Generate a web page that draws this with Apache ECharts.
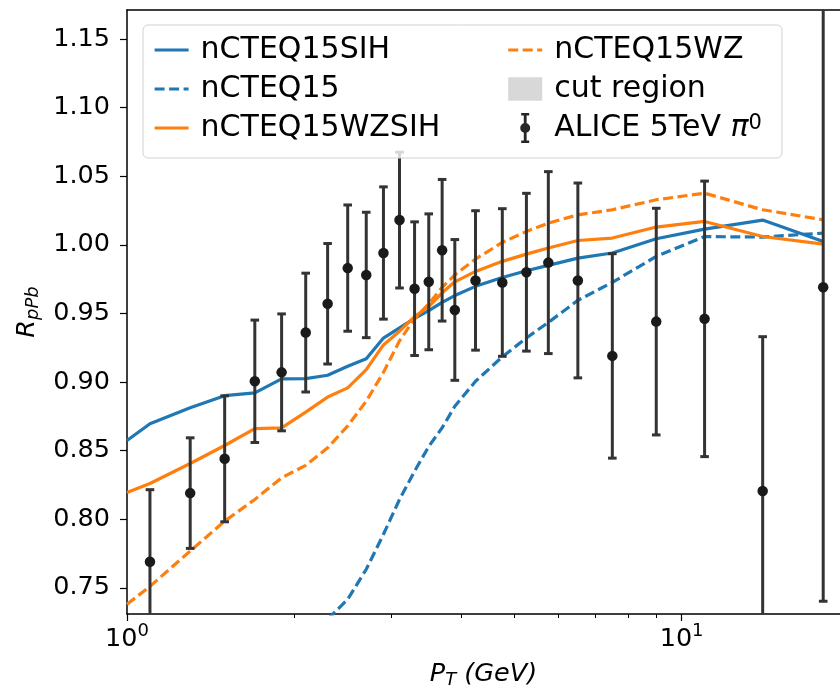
<!DOCTYPE html>
<html>
<head>
<meta charset="utf-8">
<script src="https://cdn.jsdelivr.net/npm/echarts@6/dist/echarts.min.js"></script>
<style>
  html, body { margin: 0; padding: 0; background: #ffffff; }
  #chart { width: 840px; height: 694px; }
</style>
</head>
<body>
<div id="chart"></div>
<script>
// pT grid (GeV) on which the theory predictions are evaluated
const curvePt = [1.0, 1.1, 1.3, 1.5, 1.7, 1.9, 2.1, 2.3, 2.5, 2.7, 2.9, 3.1, 3.3, 3.5, 3.7, 3.9,
                 4.25, 4.75, 5.25, 5.75, 6.5, 7.5, 9, 11, 14, 18];

// R_pPb predictions per PDF set
const rSIH = [0.8574, 0.8695, 0.8812, 0.890, 0.892, 0.9023, 0.9025, 0.9049, 0.9115, 0.917, 0.932, 0.9395,
              0.9463, 0.952, 0.958, 0.9630, 0.9697, 0.9762, 0.9811, 0.985, 0.9903, 0.994, 1.0044, 1.0114,
              1.018, 1.0024];
const rWZSIH = [0.8195, 0.826, 0.8406, 0.8537, 0.866, 0.8666, 0.878, 0.889, 0.8957, 0.909, 0.927, 0.937,
                0.9476, 0.955, 0.965, 0.973, 0.9806, 0.9879, 0.9932, 0.9976, 1.0031, 1.0049, 1.0129,
                1.017, 1.006, 1.0005];
const rWZ = [0.738, 0.751, 0.7768, 0.7986, 0.8144, 0.8302, 0.8392, 0.852, 0.868, 0.886, 0.907, 0.930,
             0.946, 0.957, 0.969, 0.978, 0.9896, 1.0017, 1.0097, 1.0158, 1.0218, 1.0255, 1.0328, 1.0376,
             1.0255, 1.0182];
// nCTEQ15 starts at pT = 2.1 (lower values fall far below the window)
const ptBase = [2.1, 2.3, 2.5, 2.7, 2.9, 3.1, 3.3, 3.5, 3.7, 3.9, 4.25, 4.75, 5.25, 5.75, 6.5, 7.5, 9, 11, 14, 18];
const rBase = [0.700, 0.727, 0.7416, 0.7635, 0.789, 0.8144, 0.835, 0.853, 0.8666, 0.8823, 0.9005, 0.9183,
               0.9321, 0.9434, 0.9595, 0.9726, 0.9915, 1.006, 1.0056, 1.0085];

// ALICE 5 TeV pi0 measurement
const alicePt = [1.1, 1.3, 1.5, 1.7, 1.9, 2.1, 2.3, 2.5, 2.7, 2.9, 3.1, 3.3, 3.5, 3.7, 3.9,
                 4.25, 4.75, 5.25, 5.75, 6.5, 7.5, 9, 11, 14, 18];
const aliceR = [0.769, 0.819, 0.844, 0.9005, 0.907, 0.936, 0.957, 0.983, 0.978, 0.994, 1.018, 0.968,
                0.973, 0.996, 0.9525, 0.974, 0.9725, 0.980, 0.987, 0.974, 0.919, 0.944, 0.946, 0.8205, 0.969];
const aliceErr = [0.0525, 0.0403, 0.0459, 0.0446, 0.0426, 0.0433, 0.0439, 0.046, 0.0457, 0.0482, 0.0495,
                  0.0487, 0.0495, 0.0516, 0.0513, 0.0508, 0.0538, 0.0575, 0.0663, 0.071, 0.0745, 0.0826,
                  0.1004, 0.1125, 0.2288];

// Axis ranges and ticks
const xMin = 1.0, xMax = 19.3;
const yMin = 0.7309, yMax = 1.1711;
const yTicks = [0.75, 0.80, 0.85, 0.90, 0.95, 1.00, 1.05, 1.10, 1.15];
const xMajorTicks = [1, 10];
const xMinorTicks = [2, 3, 4, 5, 6, 7, 8, 9];

const BLUE = '#1f77b4', ORANGE = '#ff7f0e', GREY_CUT = '#d8d8d8';
const FONT = 'DejaVu Sans';
const DASH = [10, 4.5];
const LW = 3.2;
const ERR_LW = 3;

const zip = (xs, ys) => xs.map((x, i) => [x, ys[i]]);

const chart = echarts.init(document.getElementById('chart'), null, { renderer: 'canvas' });

function lineSeries(name, xs, ys, color, dashed) {
  return {
    name, type: 'line', data: zip(xs, ys), symbol: 'none', smooth: false,
    xAxisIndex: 0, yAxisIndex: 0, z: 2,
    lineStyle: { color, width: LW, type: dashed ? DASH : 'solid', cap: 'butt' },
    itemStyle: { color }
  };
}

// legend entry for a line: plain stroke (solid or dashed), no marker
function lineLegend(name, color, dashed) {
  return {
    name,
    itemStyle: { opacity: 0 },
    lineStyle: { color, width: LW, type: dashed ? DASH : 'solid', opacity: 1 }
  };
}

const errorData = alicePt.map((x, i) => [x, aliceR[i], aliceR[i] - aliceErr[i], aliceR[i] + aliceErr[i]]);

const aliceName = 'ALICE 5TeV π0';
const errIcon = 'path://M1,0H9V2.4H6.4V27.6H9V30H1V27.6H3.6V2.4H1Z M0,15A5,5 0 1,1 10,15A5,5 0 1,1 0,15Z';

const option = {
  animation: false,
  backgroundColor: '#ffffff',
  grid: { left: 127, top: 10, right: -1, bottom: 79, containLabel: false },
  xAxis: [
    {
      type: 'log', logBase: 10, min: xMin, max: xMax, position: 'bottom',
      axisLine: { show: true, lineStyle: { color: '#000', width: 1.5 } },
      axisTick: { show: true, length: 7, lineStyle: { color: '#000', width: 1.2 }, customValues: xMajorTicks },
      splitLine: { show: false },
      axisLabel: {
        customValues: xMajorTicks, margin: 8, color: '#000',
        formatter: v => '{b|10}{s|' + Math.round(Math.log10(v)) + '}',
        rich: {
          b: { fontFamily: FONT, fontSize: 25.5, lineHeight: 34, color: '#000' },
          s: { fontFamily: FONT, fontSize: 18, lineHeight: 10, verticalAlign: 'top', color: '#000' }
        }
      },
      name: '{i|P}{sub|T}{i| (GeV)}', nameLocation: 'middle', nameGap: 45,
      nameTextStyle: {
        rich: {
          i: { fontFamily: FONT, fontStyle: 'italic', fontSize: 25.5, lineHeight: 30, color: '#000' },
          sub: { fontFamily: FONT, fontStyle: 'italic', fontSize: 18, lineHeight: 14, verticalAlign: 'bottom', color: '#000' }
        }
      }
    },
    {
      // minor ticks of the log axis
      type: 'log', logBase: 10, min: xMin, max: xMax, position: 'bottom',
      axisLine: { show: false },
      axisTick: { show: true, length: 4, lineStyle: { color: '#000', width: 1 }, customValues: xMinorTicks },
      axisLabel: { show: false }, splitLine: { show: false }
    },
    {
      // top frame line
      type: 'log', logBase: 10, min: xMin, max: xMax, position: 'top',
      axisLine: { show: true, lineStyle: { color: '#000', width: 1.5 } },
      axisTick: { show: false }, axisLabel: { show: false }, splitLine: { show: false }
    }
  ],
  yAxis: [{
    type: 'value', min: yMin, max: yMax, position: 'left',
    axisLine: { show: true, lineStyle: { color: '#000', width: 1.5 } },
    axisTick: { show: true, length: 7, lineStyle: { color: '#000', width: 1.2 }, customValues: yTicks },
    splitLine: { show: false },
    axisLabel: {
      customValues: yTicks, margin: 17, color: '#000', fontFamily: FONT, fontSize: 25.5,
      formatter: v => v.toFixed(2)
    },
    name: '{i|R}{sub|pPb}', nameLocation: 'middle', nameGap: 84, nameRotate: 90,
    nameTextStyle: {
      rich: {
        i: { fontFamily: FONT, fontStyle: 'italic', fontSize: 25.5, lineHeight: 30, color: '#000' },
        sub: { fontFamily: FONT, fontStyle: 'italic', fontSize: 18, lineHeight: 14, verticalAlign: 'bottom', color: '#000' }
      }
    }
  }],
  legend: {
    orient: 'vertical', left: 153, top: 35, height: 110,
    padding: 0, itemGap: 9, itemWidth: 34, itemHeight: 30,
    selectedMode: false,
    data: [
      lineLegend('nCTEQ15SIH', BLUE, false),
      lineLegend('nCTEQ15', BLUE, true),
      lineLegend('nCTEQ15WZSIH', ORANGE, false),
      lineLegend('nCTEQ15WZ', ORANGE, true),
      { name: 'cut region', icon: 'path://M0,0H32V22H0Z', itemStyle: { color: GREY_CUT } },
      { name: aliceName, icon: errIcon, itemStyle: { color: '#262626' } }
    ],
    formatter: name => name === aliceName ? '{n|ALICE 5TeV }{p|π}{s|0}' : name,
    textStyle: {
      fontFamily: FONT, fontSize: 30, lineHeight: 30, color: '#000', width: 297,
      padding: [0, 0, 0, 7],
      rich: {
        n: { fontFamily: FONT, fontSize: 30, lineHeight: 30, color: '#000' },
        p: { fontFamily: FONT, fontStyle: 'italic', fontSize: 30, lineHeight: 30, color: '#000' },
        s: { fontFamily: FONT, fontSize: 21, lineHeight: 14, verticalAlign: 'top', color: '#000' }
      }
    }
  },
  graphic: [{
    type: 'rect', z: 3, silent: true,
    shape: { x: 143, y: 25, width: 639, height: 133, r: 5 },
    style: { fill: 'rgba(255,255,255,0.8)', stroke: '#d2d2d2', lineWidth: 1 }
  }],
  series: [
    lineSeries('nCTEQ15SIH', curvePt, rSIH, BLUE, false),
    lineSeries('nCTEQ15', ptBase, rBase, BLUE, true),
    lineSeries('nCTEQ15WZSIH', curvePt, rWZSIH, ORANGE, false),
    lineSeries('nCTEQ15WZ', curvePt, rWZ, ORANGE, true),
    {
      name: 'cut region', type: 'custom', data: [], itemStyle: { color: GREY_CUT },
      renderItem: () => null
    },
    {
      name: aliceName, type: 'custom', z: 2.5,
      itemStyle: { color: '#333333' },
      data: errorData,
      encode: { x: 0, y: [1, 2, 3] },
      renderItem: (params, api) => {
        const cs = params.coordSys;
        const x = api.value(0);
        const pLo = api.coord([x, api.value(2)]);
        const pHi = api.coord([x, api.value(3)]);
        const top = cs.y, bottom = cs.y + cs.height;
        const yTop = Math.max(pHi[1], top), yBot = Math.min(pLo[1], bottom);
        const cap = 4.3;
        const st = { stroke: '#333333', lineWidth: ERR_LW };
        const kids = [{ type: 'line', shape: { x1: pHi[0], y1: yTop, x2: pHi[0], y2: yBot }, style: st }];
        if (pHi[1] >= top) kids.push({ type: 'line', shape: { x1: pHi[0] - cap, y1: pHi[1], x2: pHi[0] + cap, y2: pHi[1] }, style: st });
        if (pLo[1] <= bottom) kids.push({ type: 'line', shape: { x1: pLo[0] - cap, y1: pLo[1], x2: pLo[0] + cap, y2: pLo[1] }, style: st });
        return { type: 'group', children: kids };
      }
    },
    {
      name: aliceName, type: 'scatter', z: 2.6,
      data: zip(alicePt, aliceR), symbol: 'circle', symbolSize: 10.5,
      itemStyle: { color: '#1a1a1a', opacity: 1 }
    }
  ]
};

chart.setOption(option);
</script>
</body>
</html>
